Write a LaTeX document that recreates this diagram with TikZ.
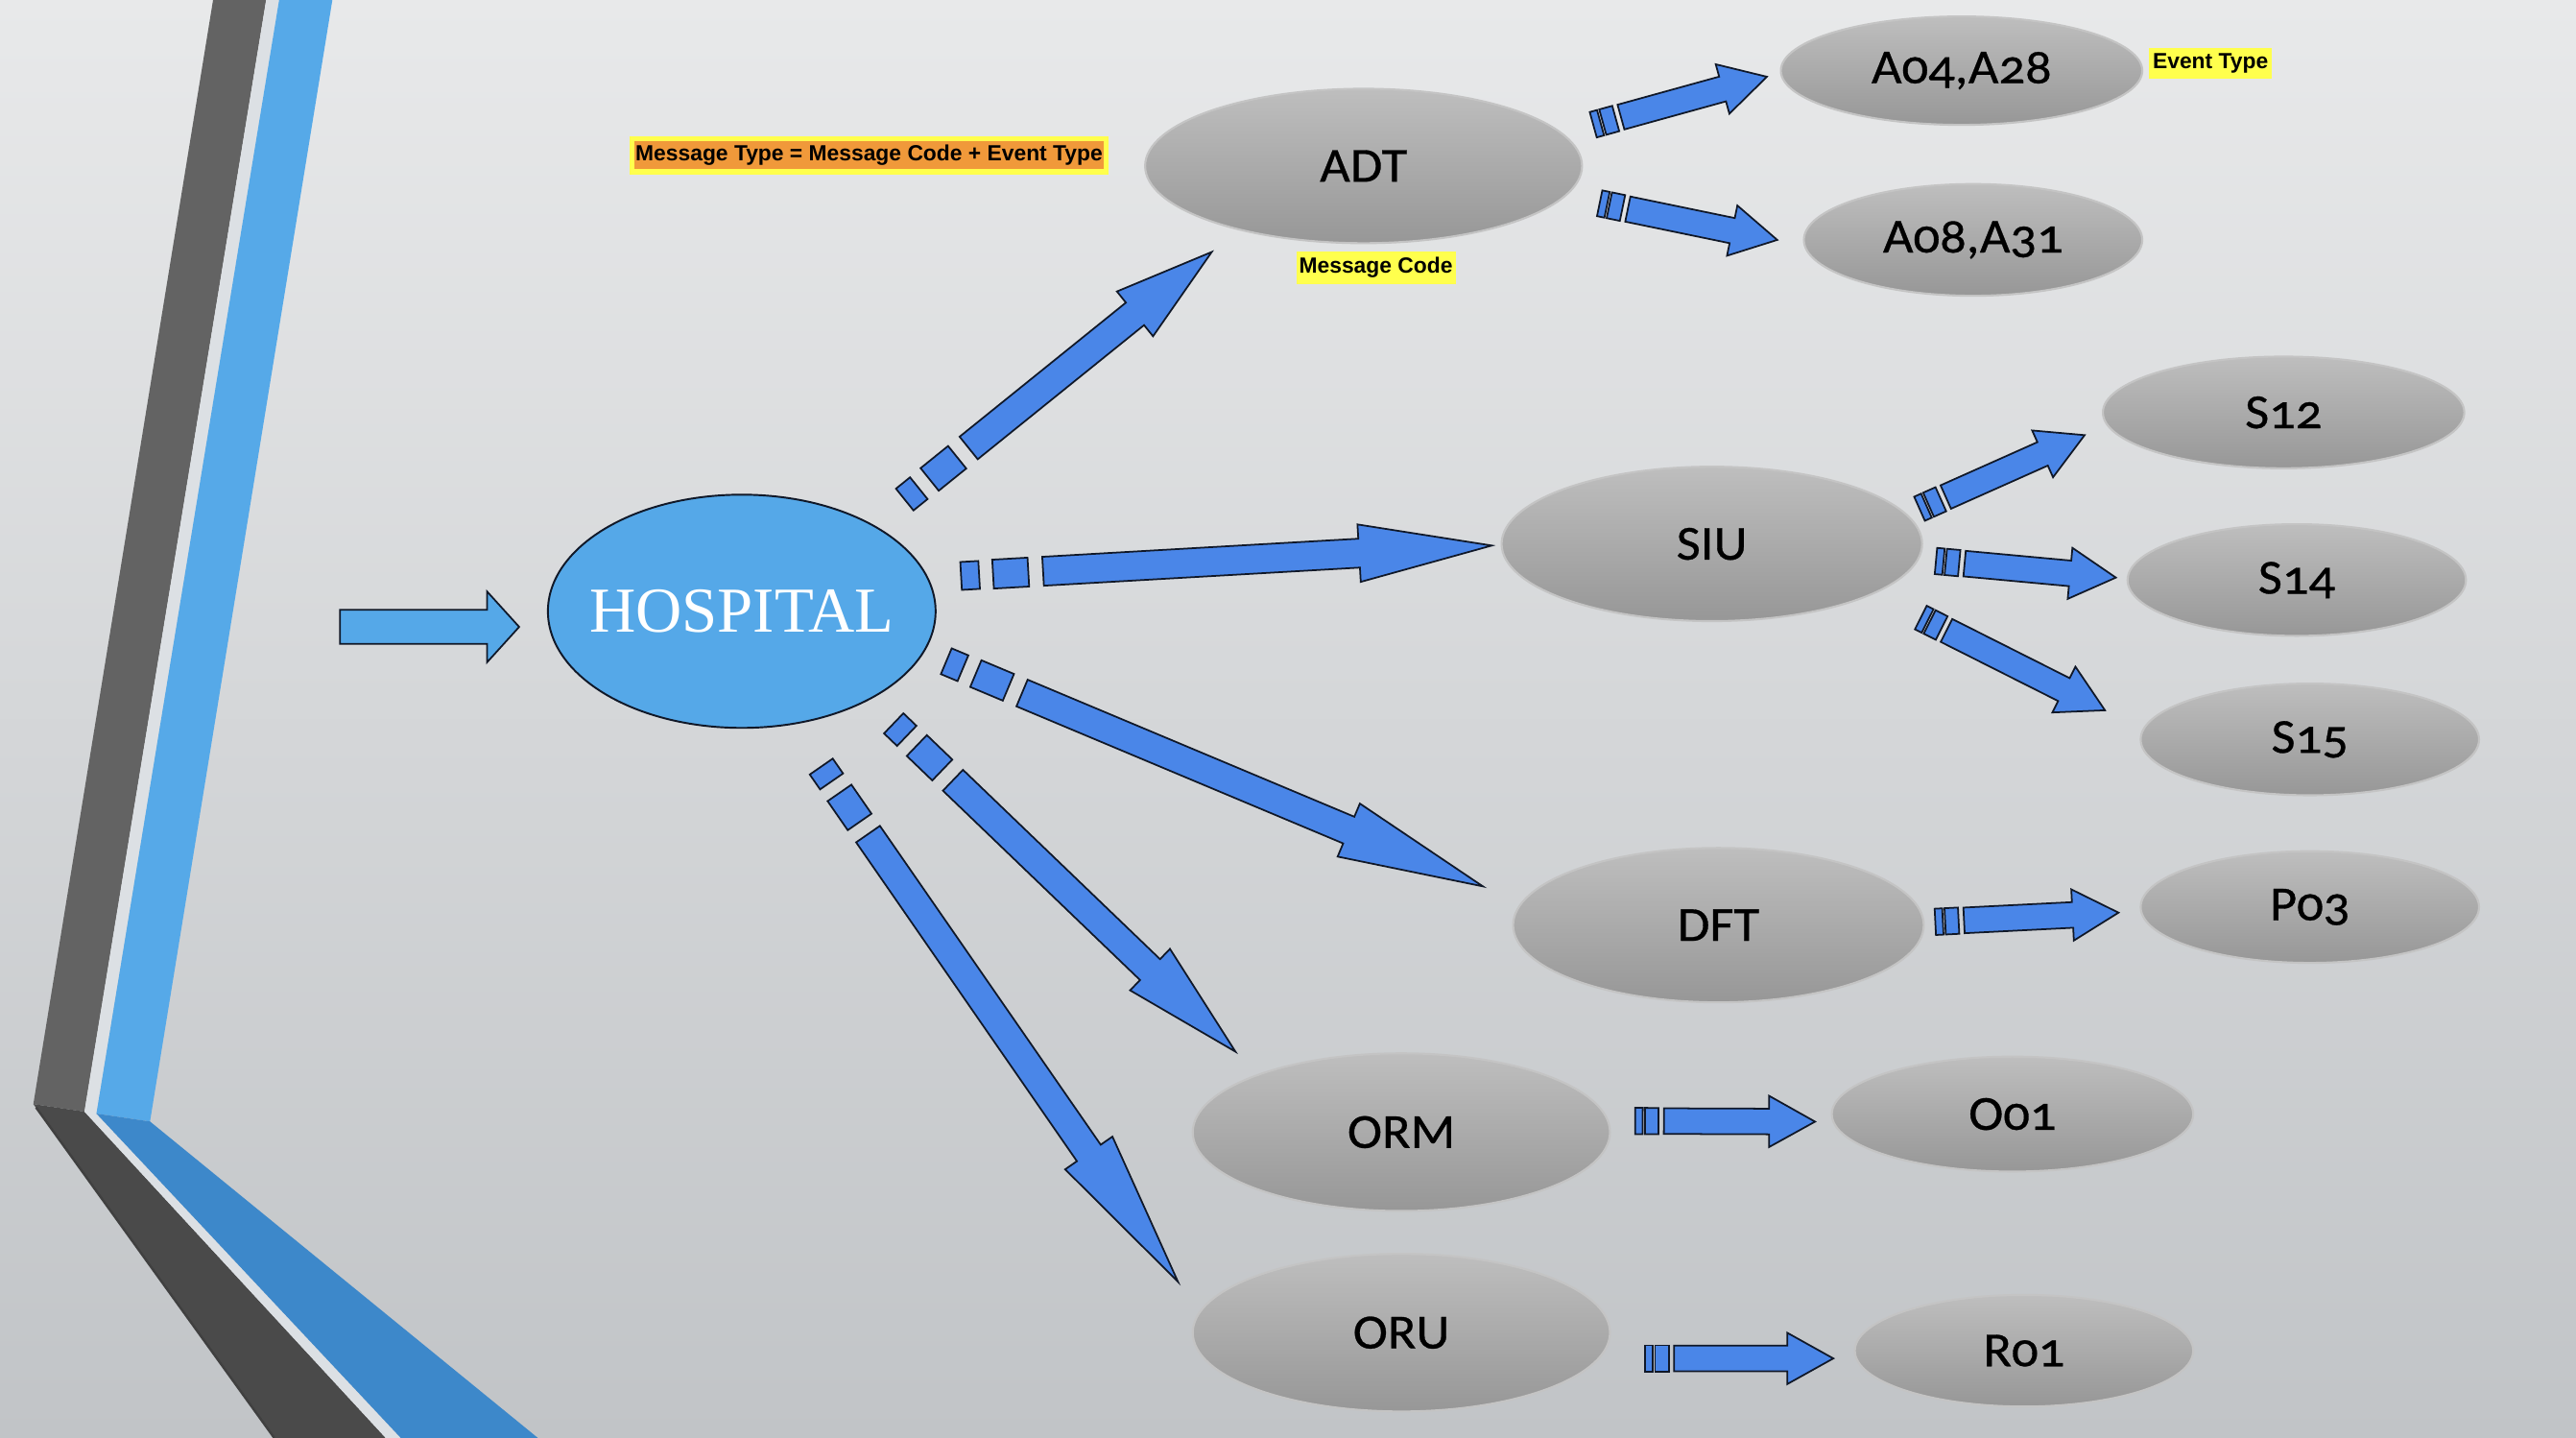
\documentclass[tikz,border=0pt]{standalone}
\usepackage{fontspec}
\setmainfont{Liberation Serif}
\newfontfamily\nodefont[Numbers=OldStyle,FakeStretch=1.07,FakeBold=0.6]{Carlito}
\newfontfamily\lblfont{Liberation Sans}
\usetikzlibrary{shapes.geometric,calc}

\definecolor{bgtop}{HTML}{E8E9EA}
\definecolor{bgmid}{HTML}{EFF0F0}
\definecolor{bgbot}{HTML}{C1C4C7}
\definecolor{darkband}{HTML}{636363}
\definecolor{darkbandlow}{HTML}{4A4A4A}
\definecolor{blueband}{HTML}{56A9E8}
\definecolor{bluebandlow}{HTML}{3D88CA}
\definecolor{gapcol}{HTML}{DCE0E4}
\definecolor{hospblue}{HTML}{55A8E8}
\definecolor{arrblue}{HTML}{4A86E8}
\definecolor{nodetop}{HTML}{BEBEBE}
\definecolor{nodebot}{HTML}{979797}
\definecolor{nodeedge}{HTML}{C4C4C4}
\definecolor{lblorange}{HTML}{F0993A}
\definecolor{lblyellow}{HTML}{FFFF4D}
\definecolor{outl}{HTML}{101828}

\tikzset{
  msgnode/.style={ellipse, inner sep=0pt, top color=nodetop, bottom color=nodebot,
    draw=nodeedge, line width=0.6pt, text=black,
    font=\nodefont\fontsize{14.5}{17}\selectfont},
  hospnode/.style={ellipse, inner xsep=-6pt, inner ysep=0pt, fill=hospblue, draw=outl,
    line width=0.55pt, text=white, font=\fontsize{19}{22}\selectfont},
  arrowshape/.style={fill=arrblue, draw=outl, line width=0.5pt, line join=miter},
  inarrowshape/.style={fill=hospblue, draw=outl, line width=0.5pt, line join=miter},
  lbl/.style={rectangle, inner sep=0pt, text=black,
    font=\lblfont\bfseries\fontsize{6.5}{7}\selectfont},
}

\newcommand\arrowprep[2]{%
  \pgfpointdiff{\pgfpointanchor{#1}{center}}{\pgfpointanchor{#2}{center}}%
  \pgfgetlastxy{\myDX}{\myDY}%
  \pgfmathsetmacro\myAng{atan2(\myDY,\myDX)}%
  \pgfmathsetmacro\myLen{veclen(\myDX,\myDY)/0.48702}%
}
\newcommand\bigarrow[2]{%
  \arrowprep{#1}{#2}%
  \pgfmathsetmacro\myHB{0.75*\myLen}%
  \begin{scope}[shift={(#1)},rotate=\myAng]
    \draw[arrowshape] (0,-8.5) rectangle (11,8.5);
    \draw[arrowshape] (19.5,-8.8) rectangle (41,8.8);
    \draw[arrowshape] (50,-8.8) -- (\myHB,-8.8) -- (\myHB,-17.5) -- (\myLen,0)
      -- (\myHB,17.5) -- (\myHB,8.8) -- (50,8.8) -- cycle;
  \end{scope}}
\newcommand\smallarrow[2]{%
  \arrowprep{#1}{#2}%
  \pgfmathsetmacro\myHB{\myLen-28}%
  \begin{scope}[shift={(#1)},rotate=\myAng]
    \draw[arrowshape] (0,-8) rectangle (4.6,8);
    \draw[arrowshape] (6,-8) rectangle (14.2,8);
    \draw[arrowshape] (17.5,-7.8) -- (\myHB,-7.8) -- (\myHB,-15.6) -- (\myLen,0)
      -- (\myHB,15.6) -- (\myHB,7.8) -- (17.5,7.8) -- cycle;
  \end{scope}}
\newcommand\plainarrow[2]{%
  \arrowprep{#1}{#2}%
  \pgfmathsetmacro\myHB{\myLen-19.5}%
  \begin{scope}[shift={(#1)},rotate=\myAng]
    \draw[inarrowshape] (0,-10.4) -- (\myHB,-10.4) -- (\myHB,-21.5) -- (\myLen,0)
      -- (\myHB,21.5) -- (\myHB,10.4) -- (0,10.4) -- cycle;
  \end{scope}}

\begin{document}
\begin{tikzpicture}[x=0.017117cm,y=-0.017117cm]
\useasboundingbox (0,0) rectangle (1568,875);
% background
\shade[top color=bgtop, middle color=bgmid, bottom color=bgbot] (0,0) rectangle (1568,875);

% left decoration
\fill[darkband] (129.7,0) -- (162,0) -- (51.4,676.5) -- (20.3,671.9) -- cycle;
\fill[darkbandlow] (20.3,671.9) -- (51.4,676.5) -- (234.7,875) -- (166.9,875) -- cycle;
\draw[black!75, line width=0.7pt] (22,674) -- (166.9,875);
\fill[gapcol] (162,0) -- (169.9,0) -- (58.7,677.7) -- (243.9,875) -- (234.7,875) -- (51.4,676.5) -- cycle;
\fill[blueband] (169.9,0) -- (202.3,0) -- (91.3,682.5) -- (58.7,677.7) -- cycle;
\fill[bluebandlow] (58.7,677.7) -- (91.3,682.5) -- (327.3,875) -- (243.9,875) -- cycle;

% arrow end points
\coordinate (in0) at (207,381.5);   \coordinate (in1) at (316,381.5);
\coordinate (t1) at (550.7,304);    \coordinate (h1) at (738,153);
\coordinate (t2) at (585,350.5);    \coordinate (h2) at (908,332);
\coordinate (t3) at (576,402.4);    \coordinate (h3) at (902.6,539.4);
\coordinate (t4) at (544,440.2);    \coordinate (h4) at (752,640);
\coordinate (t5) at (499.9,466.5);  \coordinate (h5) at (717,780);
\coordinate (s1) at (969.8,75.9);   \coordinate (e1) at (1075.5,46.7);
\coordinate (s2) at (973.7,123.7);  \coordinate (e2) at (1081.8,146);
\coordinate (s3) at (1168.4,309.6); \coordinate (e3) at (1268.9,264.8);
\coordinate (s4) at (1178.4,341.4); \coordinate (e4) at (1287.9,351.5);
\coordinate (s5) at (1169.2,375.8); \coordinate (e5) at (1281.4,432.3);
\coordinate (s6) at (1178,561);     \coordinate (e6) at (1289.5,555.4);
\coordinate (s7) at (995.3,682.2);  \coordinate (e7) at (1104.8,682.6);
\coordinate (s8) at (1001.5,826.7); \coordinate (e8) at (1115.9,826.7);

% nodes
\node[hospnode, minimum width=40.4mm, minimum height=24.3mm] (hosp) at (451.5,372) {HOSPITAL};

\node[msgnode, minimum width=45.53mm, minimum height=16.09mm] (adt) at (830,101) {ADT};
\node[msgnode, minimum width=37.66mm, minimum height=11.30mm] (a04) at (1194,43) {\raisebox{-1pt}{A04,A28}};
\node[msgnode, minimum width=35.26mm, minimum height=11.64mm] (a08) at (1201,146) {\raisebox{-1pt}{A08,A31}};
\node[msgnode, minimum width=43.82mm, minimum height=16.09mm] (siu) at (1042,331) {SIU};
\node[msgnode, minimum width=37.66mm, minimum height=11.64mm] (s12) at (1390,251) {\raisebox{-1pt}{S12}};
\node[msgnode, minimum width=35.26mm, minimum height=11.64mm] (s14) at (1398,353) {\raisebox{-1pt}{S14}};
\node[msgnode, minimum width=35.26mm, minimum height=11.64mm] (s15) at (1406,450) {\raisebox{-1pt}{S15}};
\node[msgnode, minimum width=42.79mm, minimum height=16.09mm] (dft) at (1046,563) {DFT};
\node[msgnode, minimum width=35.26mm, minimum height=11.64mm] (p03) at (1406,552) {\raisebox{-1pt}{P03}};
\node[msgnode, minimum width=43.48mm, minimum height=16.43mm] (orm) at (853,689) {ORM};
\node[msgnode, minimum width=37.66mm, minimum height=11.98mm] (o01) at (1225,678) {O01};
\node[msgnode, minimum width=43.48mm, minimum height=16.43mm] (oru) at (853,811) {ORU};
\node[msgnode, minimum width=35.26mm, minimum height=11.64mm] (r01) at (1232,822) {R01};

% arrows
\plainarrow{in0}{in1}
\bigarrow{t1}{h1}
\bigarrow{t2}{h2}
\bigarrow{t3}{h3}
\bigarrow{t4}{h4}
\bigarrow{t5}{h5}
\smallarrow{s1}{e1}
\smallarrow{s2}{e2}
\smallarrow{s3}{e3}
\smallarrow{s4}{e4}
\smallarrow{s5}{e5}
\smallarrow{s6}{e6}
\smallarrow{s7}{e7}
\smallarrow{s8}{e8}

% labels
\node[lbl, fill=lblorange, draw=lblyellow, line width=1.5pt,
      minimum width=49.4mm, minimum height=3.45mm] (mt) at (529,94.5)
      {Message Type = Message Code + Event Type};
\node[lbl, fill=lblyellow, minimum width=16.6mm, minimum height=3.42mm] (mc) at (837.5,163) {Message Code};
\node[lbl, fill=lblyellow, minimum width=12.84mm, minimum height=3.25mm] (et) at (1345.5,38.5) {Event Type};
\end{tikzpicture}
\end{document}
